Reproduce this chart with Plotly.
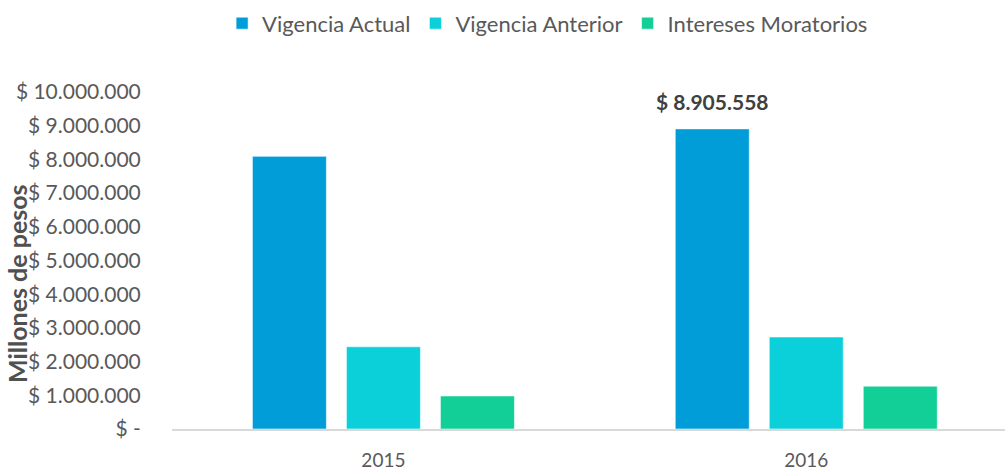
import plotly.graph_objects as go

years = ["2015", "2016"]
series_names = ["Vigencia Actual", "Vigencia Anterior", "Intereses Moratorios"]
vigencia_actual = [8090000, 8905558]
vigencia_anterior = [2440000, 2730000]
intereses_moratorios = [980000, 1270000]
colors = ["#009DD8", "#0CD0D9", "#12CF98"]
y_tick_vals = [0, 1000000, 2000000, 3000000, 4000000, 5000000, 6000000, 7000000, 8000000, 9000000, 10000000]


def fmt_money(v):
    if v == 0:
        return "$ -"
    return "$ " + f"{v:,.0f}".replace(",", ".")


y_tick_text = [fmt_money(v) for v in y_tick_vals]
# only the 2016 "Vigencia Actual" bar carries a label (an extra small line lifts it)
actual_labels = ["", "<span style='font-size:21px'>" + fmt_money(vigencia_actual[1]) + "</span><br> "]

FONT = "Lato, 'Open Sans', sans-serif"

fig = go.Figure()
for name, vals, col in zip(series_names,
                           [vigencia_actual, vigencia_anterior, intereses_moratorios],
                           colors):
    kw = {}
    if name == "Vigencia Actual":
        kw = dict(text=actual_labels, textposition="outside", constraintext="none",
                  textfont=dict(family=FONT, size=11, color="#404040", weight="bold"),
                  cliponaxis=False)
    fig.add_trace(go.Bar(
        x=years, y=vals, name=name,
        marker=dict(color=col, line=dict(color="rgba(255,255,255,0.55)", width=1)),
        hoverinfo="skip", **kw))

fig.update_layout(
    width=1005, height=470,
    margin=dict(l=172, r=0, t=92, b=41),
    paper_bgcolor="white", plot_bgcolor="white",
    barmode="group", bargap=0.333, bargroupgap=0.213,
    font=dict(family=FONT, size=21, color="#595959"),
    showlegend=True,
    legend=dict(orientation="h", xref="container", yref="container",
                x=0.221, xanchor="left", y=0.995, yanchor="top",
                font=dict(family=FONT, size=22, color="#595959"),
                itemwidth=30, traceorder="normal"),
    xaxis=dict(type="category", range=[-0.5, 1.47], automargin=False,
               showgrid=False, zeroline=False,
               showline=True, linecolor="#D9D9D9", linewidth=1.5,
               ticks="outside", ticklen=13, tickcolor="rgba(0,0,0,0)",
               tickfont=dict(family=FONT, size=19, color="#595959")),
    yaxis=dict(range=[0, 10000000], tickvals=y_tick_vals, ticktext=y_tick_text,
               automargin=False,
               showgrid=False, zeroline=False, showline=False,
               ticks="outside", ticklen=26, tickcolor="rgba(0,0,0,0)",
               tickfont=dict(family=FONT, size=21, color="#595959")),
    annotations=[dict(text="<b>Millones de pesos</b>", textangle=-90,
                      xref="paper", yref="paper",
                      x=(17 - 172) / 833, y=(429 - 284) / 337,
                      xanchor="center", yanchor="middle", showarrow=False,
                      font=dict(family=FONT, size=25, color="#505050"))],
)

fig.write_html("out.html", config={"displayModeBar": False},
               post_script="document.body.style.margin='0';")
